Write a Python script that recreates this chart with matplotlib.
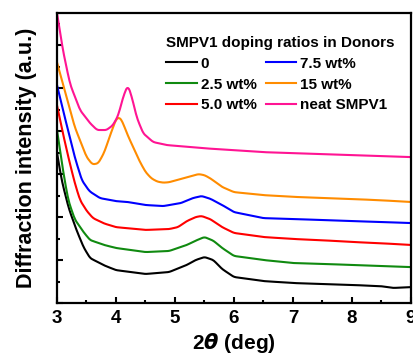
import matplotlib.pyplot as plt
import numpy as np
from matplotlib.ticker import MultipleLocator

plt.rcParams['font.family'] = ['Liberation Sans', 'DejaVu Sans']
plt.rcParams['font.weight'] = 'bold'
plt.rcParams['mathtext.fontset'] = 'dejavusans'

# 2theta (deg) and intensity (a.u.)
x_black = [3.0, 3.08, 3.2, 3.33, 3.45, 3.56, 3.8, 4.0, 4.5, 4.9, 5.2, 5.35, 5.5, 5.65, 5.8, 6.0, 6.5, 7.0, 7.5, 8.0, 8.5, 8.7, 9.0]
y_black = [7.0, 5.7, 4.4, 3.4, 2.6, 2.09, 1.75, 1.53, 1.35, 1.44, 1.77, 2.0, 2.14, 2.0, 1.58, 1.21, 1.02, 0.93, 0.88, 0.84, 0.78, 0.70, 0.74]

x_green = [3.0, 3.1, 3.19, 3.3, 3.45, 3.56, 3.8, 4.0, 4.5, 4.9, 5.2, 5.35, 5.5, 5.65, 5.8, 6.0, 6.5, 7.0, 7.5, 8.0, 8.5, 9.0]
y_green = [8.05, 6.2, 4.79, 3.9, 3.3, 2.93, 2.7, 2.56, 2.37, 2.42, 2.70, 2.9, 3.07, 2.9, 2.56, 2.19, 2.0, 1.86, 1.82, 1.77, 1.72, 1.67]

x_red = [3.0, 3.1, 3.2, 3.3, 3.39, 3.5, 3.61, 3.8, 4.0, 4.5, 4.9, 5.05, 5.2, 5.35, 5.45, 5.6, 5.8, 6.0, 6.5, 7.0, 7.5, 8.0, 8.5, 9.0]
y_red = [9.2, 7.9, 6.7, 5.6, 4.79, 4.3, 3.95, 3.7, 3.53, 3.40, 3.44, 3.53, 3.81, 4.0, 4.05, 3.9, 3.53, 3.26, 3.07, 2.98, 2.92, 2.84, 2.78, 2.70]

x_blue = [3.0, 3.1, 3.2, 3.3, 3.42, 3.55, 3.73, 4.0, 4.2, 4.5, 4.8, 5.1, 5.3, 5.45, 5.6, 5.8, 6.0, 6.5, 7.0, 7.5, 8.0, 8.5, 9.0]
y_blue = [10.14, 9.0, 7.9, 6.8, 5.72, 5.2, 4.88, 4.74, 4.70, 4.56, 4.51, 4.65, 4.88, 4.98, 4.85, 4.56, 4.23, 3.95, 3.91, 3.86, 3.81, 3.77, 3.72]

x_orange = [3.0, 3.1, 3.2, 3.3, 3.4, 3.5, 3.6, 3.7, 3.8, 3.9, 4.0, 4.05, 4.1, 4.2, 4.3, 4.4, 4.5, 4.6, 4.7, 4.8, 4.9, 5.0, 5.2, 5.4, 5.5, 5.6, 5.7, 5.8, 6.0, 6.5, 7.0, 7.5, 8.0, 8.5, 9.0]
y_orange = [11.2, 10.2, 9.2, 8.2, 7.5, 6.8, 6.45, 6.5, 7.0, 7.8, 8.55, 8.65, 8.5, 7.8, 7.2, 6.6, 6.1, 5.8, 5.65, 5.6, 5.62, 5.7, 5.85, 6.0, 5.95, 5.8, 5.6, 5.4, 5.16, 5.02, 4.94, 4.89, 4.84, 4.78, 4.70]

x_pink = [3.0, 3.1, 3.22, 3.39, 3.56, 3.68, 3.84, 3.95, 4.04, 4.12, 4.2, 4.27, 4.35, 4.46, 4.63, 4.86, 5.5, 6.5, 7.5, 8.5, 9.0]
y_pink = [13.5, 11.77, 10.2, 8.98, 8.37, 8.05, 8.05, 8.28, 8.74, 9.58, 10.15, 9.58, 8.65, 7.9, 7.49, 7.35, 7.2, 7.02, 6.93, 6.84, 6.79]

labels = ['0', '2.5 wt%', '5.0 wt%', '7.5 wt%', '15 wt%', 'neat SMPV1']
colors = ['black', '#108a10', '#ff0000', '#0000ff', '#ff8c00', '#ff1493']
xs = [x_black, x_green, x_red, x_blue, x_orange, x_pink]
ys = [y_black, y_green, y_red, y_blue, y_orange, y_pink]

fig = plt.figure(figsize=(4.13, 3.59), dpi=100)
ax = fig.add_axes([0.138, 0.156, 0.857, 0.808])

for xv, yv, c, lab in zip(xs, ys, colors, labels):
    xf = np.linspace(xv[0], xv[-1], 400)
    yf = np.interp(xf, xv, yv)
    # light moving average to round the corners
    k = np.ones(5) / 5
    ypad = np.concatenate([np.full(2, yf[0]), yf, np.full(2, yf[-1])])
    ysm = np.convolve(ypad, k, mode='valid')
    ysm[:2] = yf[:2]
    ax.plot(xf, ysm, color=c, lw=1.5, label=lab)

ax.set_xlim(3, 9)
ax.set_ylim(0, 13.5)
ax.xaxis.set_major_locator(MultipleLocator(1))
ax.xaxis.set_minor_locator(MultipleLocator(0.5))
ax.yaxis.set_major_locator(MultipleLocator(2))
ax.yaxis.set_minor_locator(MultipleLocator(1))
ax.tick_params(which='both', direction='in', width=1.5, top=False, right=False)
ax.tick_params(which='major', length=4)
ax.tick_params(which='minor', length=2.5)
ax.tick_params(axis='x', labelsize=13.5, pad=5)
ax.set_yticklabels([])
for lab in ax.get_xticklabels():
    lab.set_fontweight('bold')
for s in ax.spines.values():
    s.set_linewidth(1.6)

ax.set_xlabel(r'2$\theta$ (deg)', fontsize=15, fontweight='bold', labelpad=3)
ax.set_ylabel('Diffraction intensity (a.u.)', fontsize=15.5, fontweight='bold', labelpad=11)

leg = ax.legend(ncol=2, loc='upper right', bbox_to_anchor=(0.985, 0.958), frameon=False,
                title='SMPV1 doping ratios in Donors',
                prop={'size': 11, 'weight': 'bold'}, handlelength=2.0, handletextpad=0.25,
                columnspacing=0.6, labelspacing=0.45, borderpad=0.2)
leg.get_title().set_fontweight('bold')
leg.get_title().set_fontsize(11)
leg._legend_box.align = 'left'

fig.savefig('out.png', dpi=100)
